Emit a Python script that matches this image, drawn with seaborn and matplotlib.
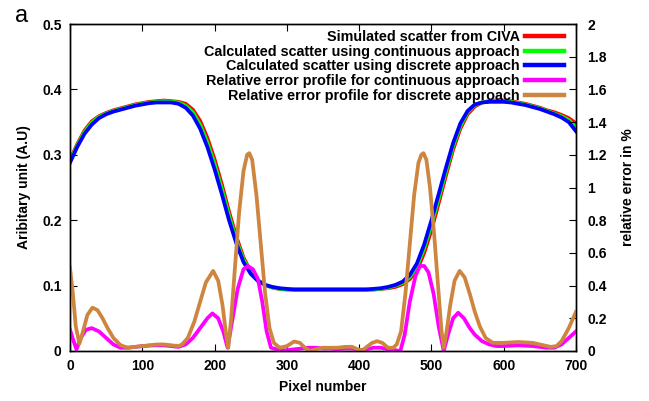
import numpy as np
import pandas as pd
import matplotlib
matplotlib.use("Agg")
import matplotlib.pyplot as plt
import seaborn as sns
from matplotlib.ticker import FormatStrFormatter

# ---------------- data ----------------
pixel = list(range(0, 701, 10))

civa = [0.292, 0.316, 0.337, 0.351, 0.359, 0.364, 0.368, 0.371, 0.374, 0.377,
        0.379, 0.381, 0.382, 0.383, 0.382, 0.381, 0.378, 0.369, 0.352, 0.326,
        0.293, 0.255, 0.213, 0.175, 0.143, 0.121, 0.108, 0.101, 0.097, 0.095,
        0.094, 0.094, 0.094, 0.094, 0.094, 0.094, 0.094, 0.094, 0.094, 0.094,
        0.094, 0.094, 0.094, 0.095, 0.096, 0.098, 0.102, 0.110, 0.124, 0.150,
        0.185, 0.226, 0.268, 0.308, 0.340, 0.362, 0.374, 0.380, 0.382, 0.383,
        0.383, 0.382, 0.380, 0.378, 0.375, 0.372, 0.368, 0.365, 0.361, 0.356,
        0.348]

continuous = [0.290, 0.314, 0.335, 0.349, 0.358, 0.363, 0.367, 0.370, 0.373, 0.376,
              0.378, 0.380, 0.381, 0.382, 0.381, 0.380, 0.375, 0.365, 0.346, 0.319,
              0.286, 0.248, 0.207, 0.170, 0.140, 0.120, 0.108, 0.101, 0.097, 0.095,
              0.094, 0.094, 0.094, 0.094, 0.094, 0.094, 0.094, 0.094, 0.094, 0.094,
              0.094, 0.094, 0.094, 0.095, 0.097, 0.100, 0.104, 0.113, 0.129, 0.157,
              0.193, 0.233, 0.274, 0.313, 0.344, 0.365, 0.376, 0.380, 0.382, 0.382,
              0.382, 0.381, 0.379, 0.377, 0.374, 0.371, 0.367, 0.363, 0.359, 0.353,
              0.342]

discrete = [0.288, 0.312, 0.332, 0.346, 0.356, 0.362, 0.366, 0.369, 0.372, 0.375,
            0.377, 0.379, 0.380, 0.380, 0.380, 0.378, 0.372, 0.360, 0.340, 0.312,
            0.278, 0.240, 0.200, 0.165, 0.136, 0.118, 0.107, 0.101, 0.098, 0.096,
            0.095, 0.094, 0.094, 0.094, 0.094, 0.094, 0.094, 0.094, 0.094, 0.094,
            0.094, 0.094, 0.095, 0.096, 0.098, 0.101, 0.106, 0.116, 0.134, 0.163,
            0.200, 0.240, 0.280, 0.318, 0.348, 0.367, 0.377, 0.380, 0.381, 0.381,
            0.381, 0.380, 0.378, 0.376, 0.373, 0.370, 0.366, 0.362, 0.357, 0.350,
            0.336]

err_cont_x = [0, 5, 9, 15, 22, 30, 40, 50, 60, 70, 80, 90, 100, 110, 120, 130, 140,
              150, 160, 170, 180, 190, 197, 205, 212, 218, 225, 232, 240, 246, 253,
              260, 266, 272, 278, 290, 300, 310, 320, 330, 340, 350, 360, 370, 380,
              390, 400, 410, 420, 430, 440, 450, 457, 463, 470, 478, 484, 490, 496,
              503, 510, 517, 523, 530, 537, 545, 553, 560, 570, 580, 590, 600, 620,
              640, 660, 670, 680, 690, 700]
err_cont = [0.13, 0.06, 0.01, 0.08, 0.13, 0.14, 0.12, 0.08, 0.04, 0.02, 0.02, 0.025,
            0.03, 0.033, 0.035, 0.034, 0.03, 0.025, 0.04, 0.08, 0.14, 0.20, 0.23,
            0.20, 0.12, 0.02, 0.20, 0.38, 0.50, 0.52, 0.50, 0.44, 0.30, 0.12, 0.02,
            0.005, 0.005, 0.01, 0.015, 0.02, 0.02, 0.015, 0.015, 0.01, 0.015, 0.015,
            0.005, 0.01, 0.02, 0.02, 0.01, 0.005, 0.0, 0.10, 0.30, 0.46, 0.52, 0.52,
            0.48, 0.35, 0.15, 0.0, 0.10, 0.20, 0.234, 0.20, 0.14, 0.10, 0.06, 0.04,
            0.03, 0.03, 0.035, 0.03, 0.02, 0.02, 0.04, 0.08, 0.12]

err_disc_x = [0, 4, 8, 13, 18, 24, 31, 38, 45, 52, 60, 70, 80, 90, 100, 110, 120,
              130, 140, 150, 155, 163, 172, 180, 188, 198, 205, 211, 216, 219, 223,
              228, 234, 240, 245, 248, 252, 258, 264, 270, 276, 282, 290, 300, 310,
              318, 325, 332, 340, 350, 360, 370, 380, 390, 398, 405, 412, 418, 425,
              432, 440, 447, 452, 458, 464, 470, 476, 482, 486, 489, 493, 498, 504,
              510, 514, 517, 521, 526, 532, 539, 546, 553, 560, 567, 575, 585, 600,
              620, 640, 655, 665, 673, 680, 690, 700]
err_disc = [0.51, 0.35, 0.15, 0.045, 0.12, 0.22, 0.265, 0.25, 0.20, 0.14, 0.08,
            0.035, 0.02, 0.025, 0.03, 0.035, 0.04, 0.04, 0.035, 0.03, 0.04, 0.08,
            0.18, 0.30, 0.42, 0.49, 0.43, 0.28, 0.10, 0.02, 0.20, 0.50, 0.85, 1.10,
            1.20, 1.21, 1.17, 0.95, 0.65, 0.35, 0.14, 0.05, 0.02, 0.03, 0.058, 0.05,
            0.02, 0.0, 0.01, 0.02, 0.02, 0.02, 0.025, 0.026, 0.01, 0.005, 0.03, 0.05,
            0.06, 0.05, 0.02, 0.02, 0.04, 0.12, 0.35, 0.65, 0.95, 1.15, 1.20, 1.21,
            1.17, 1.00, 0.70, 0.35, 0.12, 0.02, 0.12, 0.28, 0.43, 0.49, 0.45, 0.35,
            0.24, 0.15, 0.08, 0.05, 0.05, 0.055, 0.05, 0.035, 0.025, 0.03, 0.06,
            0.14, 0.24]

labels = ["Simulated scatter from CIVA",
          "Calculated scatter using continuous approach",
          "Calculated scatter using discrete approach",
          "Relative error profile for continuous approach",
          "Relative error profile for discrete approach"]
colors = ["#ff0000", "#00ff00", "#0000ff", "#ff00ff", "#cd853f"]

x_ticks = list(range(0, 701, 100))
y_left_ticks = [0, 0.1, 0.2, 0.3, 0.4, 0.5]
y_right_ticks = [0, 0.2, 0.4, 0.6, 0.8, 1.0, 1.2, 1.4, 1.6, 1.8, 2.0]

# ---------------- figure ----------------
plt.rcParams['font.family'] = ['Liberation Sans', 'DejaVu Sans']
plt.rcParams['xtick.direction'] = 'in'
plt.rcParams['ytick.direction'] = 'in'

fig = plt.figure(figsize=(6.49, 4.01), dpi=100)
ax = fig.add_axes([70/649, 1-351/401, (576-70)/649, (351-24)/401])
ax2 = ax.twinx()

lw = 2.7
scatter_df = pd.DataFrame({"pixel": pixel, "civa": civa,
                           "cont": continuous, "disc": discrete})
for col, lab, c in zip(["civa", "cont", "disc"], labels[:3], colors[:3]):
    sns.lineplot(data=scatter_df, x="pixel", y=col, ax=ax, color=c,
                 linewidth=lw, label=lab, legend=False)

sns.lineplot(x=err_cont_x, y=err_cont, ax=ax2, color=colors[3],
             linewidth=lw, label=labels[3], legend=False)
sns.lineplot(x=err_disc_x, y=err_disc, ax=ax2, color=colors[4],
             linewidth=lw, label=labels[4], legend=False)

ax.set_xlim(0, 700)
ax.set_ylim(0, 0.5)
ax2.set_ylim(0, 2)
ax.set_xticks(x_ticks)
ax.set_yticks(y_left_ticks)
ax2.set_yticks(y_right_ticks)
ax.yaxis.set_major_formatter(FormatStrFormatter('%g'))
ax2.yaxis.set_major_formatter(FormatStrFormatter('%g'))

for a in (ax, ax2):
    for lab in a.get_xticklabels() + a.get_yticklabels():
        lab.set_fontweight('bold')
        lab.set_fontsize(10)
    for sp in a.spines.values():
        sp.set_linewidth(1.0)
ax.tick_params(axis='x', top=True, length=5, width=0.8, pad=6)
ax.tick_params(axis='y', right=False, length=5, width=0.8, pad=6)
ax2.tick_params(axis='y', length=5, width=0.8, pad=8)

ax.set_xlabel("Pixel number", fontsize=10, fontweight='bold', labelpad=5)
ax.set_ylabel("Aribitary unit (A.U)", fontsize=10, fontweight='bold', labelpad=8)
ax2.set_ylabel("relative error in %", fontsize=10, fontweight='bold', labelpad=10)

fig.text(15/649, 1-21.5/401, "a", fontsize=17, ha='left', va='baseline')

h1, l1 = ax.get_legend_handles_labels()
h2, l2 = ax2.get_legend_handles_labels()
leg = ax2.legend(h1 + h2, l1 + l2, loc='upper right', markerfirst=False,
                 frameon=False, bbox_to_anchor=((564-70)/506, (351-30)/327),
                 borderaxespad=0, borderpad=0, handlelength=2.7,
                 handletextpad=0.35, labelspacing=0.05,
                 prop=dict(size=10.4, weight='bold'))
for line in leg.get_lines():
    line.set_linewidth(3.2)

fig.savefig("out.png", dpi=100)
